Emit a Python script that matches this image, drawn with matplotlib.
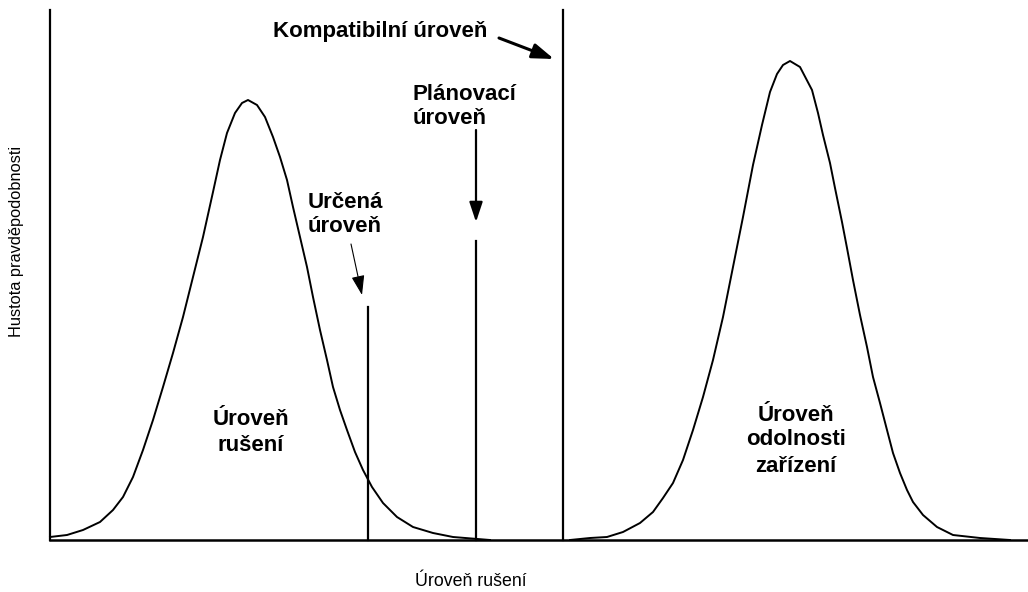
import matplotlib
matplotlib.use('Agg')
import matplotlib.pyplot as plt

plt.rcParams['font.family'] = ['Liberation Sans', 'DejaVu Sans']

# curve points (x from left axis, y from baseline)
ruseni_x = [0, 17, 33, 50, 63, 73, 83, 93, 103, 113, 123, 133, 143, 153, 163, 170,
            177, 185, 192, 198, 207, 215, 223, 230, 237, 243, 250, 257, 263, 270,
            277, 283, 290, 297, 305, 313, 322, 333, 347, 363, 383, 403, 440]
ruseni_y = [3, 5, 10, 18, 30, 43, 63, 90, 120, 153, 187, 223, 263, 303, 348, 380,
            407, 427, 437, 440, 435, 423, 403, 383, 360, 333, 303, 273, 243, 210,
            180, 153, 130, 110, 88, 70, 53, 37, 23, 13, 7, 3, 0]

odolnost_x = [520, 540, 557, 573, 590, 603, 613, 623, 633, 643, 653, 663, 673, 683,
              693, 703, 712, 720, 727, 733, 740, 750, 762, 768, 773, 780, 785, 792,
              797, 803, 810, 817, 823, 830, 837, 843, 850, 857, 863, 873, 887, 903,
              930, 960]
odolnost_y = [0, 2, 3, 8, 17, 28, 42, 57, 80, 110, 143, 180, 223, 273,
              323, 375, 415, 448, 466, 475, 479, 473, 450, 427, 405, 377, 352, 318,
              292, 260, 225, 193, 163, 137, 110, 87, 67, 50, 38, 25, 13, 5,
              2, 0]

# vertical level lines: (x, top)
urcena = (318, 233)
planovaci = (426, 299)
kompatibilni = (513, 530)

fig = plt.figure(figsize=(10.28, 5.92), dpi=100)
ax = fig.add_axes([50/1028, 52/592, 978/1028, 530/592])
ax.set_xlim(0, 978)
ax.set_ylim(0, 530)
ax.spines['top'].set_visible(False)
ax.spines['right'].set_visible(False)
ax.spines['left'].set_linewidth(1.6)
ax.spines['bottom'].set_linewidth(1.8)
ax.set_xticks([])
ax.set_yticks([])

ax.plot(ruseni_x, ruseni_y, color='black', lw=1.4, clip_on=False)
ax.plot(odolnost_x, odolnost_y, color='black', lw=1.4, clip_on=False)

for x, top in (urcena, planovaci, kompatibilni):
    ax.plot([x, x], [0, top], color='black', lw=1.6, clip_on=False)

# arrows
ax.annotate('', xy=(504, 481), xytext=(449, 502),
            arrowprops=dict(arrowstyle='-|>,head_length=1.3,head_width=0.45',
                            mutation_scale=10, lw=2.2, color='black',
                            shrinkA=0, shrinkB=0))
ax.annotate('', xy=(426, 318), xytext=(426, 410),
            arrowprops=dict(arrowstyle='-|>,head_length=1.2,head_width=0.4',
                            mutation_scale=10, lw=1.6, color='black',
                            shrinkA=0, shrinkB=0))
ax.annotate('', xy=(312, 245), xytext=(301, 296),
            arrowprops=dict(arrowstyle='-|>,head_length=1.2,head_width=0.4',
                            mutation_scale=10, lw=0.8, color='black',
                            shrinkA=0, shrinkB=0))

bold = dict(fontsize=16, fontweight='bold', va='baseline')
ax.text(223, 503, 'Kompatibilní úroveň', ha='left', **bold)
ax.text(363, 440, 'Plánovací', ha='left', **bold)
ax.text(363, 416, 'úroveň', ha='left', **bold)
ax.text(258, 332, 'Určená', ha='left', **bold)
ax.text(258, 308, 'úroveň', ha='left', **bold)
ax.text(201, 115, 'Úroveň', ha='center', **bold)
ax.text(201, 89, 'rušení', ha='center', **bold)
ax.text(746, 119, 'Úroveň', ha='center', **bold)
ax.text(746, 95, 'odolnosti', ha='center', **bold)
ax.text(746, 68, 'zařízení', ha='center', **bold)

fig.text(471/1028, 1 - 582/592, 'Úroveň rušení', ha='center', va='center', fontsize=12.8)
fig.text(17/1028, 1 - 241/592, 'Hustota pravděpodobnosti', ha='center', va='center',
         rotation=90, fontsize=11.8)

fig.savefig('out.png', dpi=100)
